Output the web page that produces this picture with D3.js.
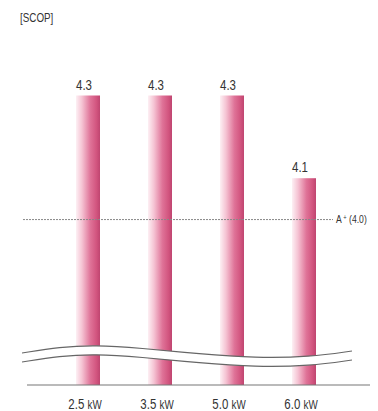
<!DOCTYPE html>
<html>
<head>
<meta charset="utf-8">
<script src="https://cdn.jsdelivr.net/npm/d3@7"></script>
<style>
  body { margin: 0; background: #fff; }
  text { font-family: "Liberation Sans", Arial, sans-serif; }
</style>
</head>
<body>
<div id="chart"></div>
<script>
// SCOP 柱状图（断轴）
const categories = ["2.5 kW", "3.5 kW", "5.0 kW", "6.0 kW"];
const values = [4.3, 4.3, 4.3, 4.1];
const refValue = 4.0;
const refLabel = "A\u207A (4.0)";
const title = "[SCOP]";

const width = 378, height = 411;
const baseY = 385;
const narrow = 0.82; // 模拟窄体字

const svg = d3.select("#chart").append("svg")
  .attr("width", width)
  .attr("height", height);

const x = d3.scalePoint().domain(categories).range([88, 304]);
const y = d3.scaleLinear().domain([3.6, 4.3]).range([baseY, 95.5]);
const barW = 24;

// 渐变
const grad = svg.append("defs").append("linearGradient")
  .attr("id", "barGrad")
  .attr("x1", "0%").attr("x2", "100%").attr("y1", "0%").attr("y2", "0%");
[
  [0, "#fdf0f4"], [0.25, "#f5c3d3"], [0.6, "#df7398"],
  [0.85, "#d2557f"], [1, "#bf4570"]
].forEach(([o, c]) => grad.append("stop").attr("offset", o).attr("stop-color", c));

svg.append("text")
  .attr("transform", `translate(20,22) scale(${narrow},1)`)
  .attr("font-size", 12).attr("fill", "#333")
  .text(title);

// 柱子
svg.selectAll(".bar")
  .data(values)
  .enter().append("rect")
  .attr("class", "bar")
  .attr("x", (d, i) => x(categories[i]) - barW / 2)
  .attr("width", barW)
  .attr("y", d => y(d))
  .attr("height", d => baseY - y(d))
  .attr("fill", "url(#barGrad)");

// 数值标签
svg.selectAll(".val")
  .data(values)
  .enter().append("text")
  .attr("transform", (d, i) => `translate(${x(categories[i]) - 4},${y(d) - 6}) scale(${narrow},1)`)
  .attr("text-anchor", "middle")
  .attr("font-size", 14).attr("fill", "#333")
  .text(d => d.toFixed(1));

// 参考线
svg.append("line")
  .attr("x1", 23).attr("x2", 333)
  .attr("y1", y(refValue)).attr("y2", y(refValue))
  .attr("stroke", "#888").attr("stroke-width", 1)
  .attr("stroke-dasharray", "2,1");
const ref = svg.append("text")
  .attr("transform", `translate(336,${y(refValue) + 3.5}) scale(${narrow},1)`)
  .attr("font-size", 10.5).attr("fill", "#333");
ref.append("tspan").text("A");
ref.append("tspan").attr("font-size", 7).attr("dy", -3).text(" +");
ref.append("tspan").attr("dy", 3).text(" (4.0)");

// 断轴波浪
const wave = [[22, 353], [60, 347], [95, 345], [140, 348], [200, 354], [255, 358], [310, 357], [352, 351]];
const lower = wave.map(([a, b]) => [a, b + 9]);
const line = d3.line().curve(d3.curveBasis);
const area = d3.area().curve(d3.curveBasis)
  .x(d => d[0]).y0(d => d[1]).y1((d, i) => lower[i][1]);
svg.append("path").attr("d", area(wave)).attr("fill", "#fff");
[wave, lower].forEach(pts => {
  svg.append("path").attr("d", line(pts))
    .attr("fill", "none").attr("stroke", "#666").attr("stroke-width", 1.2);
});

// 底线
svg.append("line")
  .attr("x1", 27).attr("x2", 370)
  .attr("y1", baseY).attr("y2", baseY)
  .attr("stroke", "#777").attr("stroke-width", 1.2);

// X 轴标签
svg.selectAll(".xl")
  .data(categories)
  .enter().append("text")
  .attr("transform", d => `translate(${x(d) - 3},409) scale(${narrow},1)`)
  .attr("text-anchor", "middle")
  .attr("font-size", 14).attr("fill", "#333")
  .each(function(d) {
    const [num, unit] = d.split(" ");
    d3.select(this).append("tspan").text(num + " ");
    d3.select(this).append("tspan").attr("font-size", 12).text(unit);
  });
</script>
</body>
</html>
